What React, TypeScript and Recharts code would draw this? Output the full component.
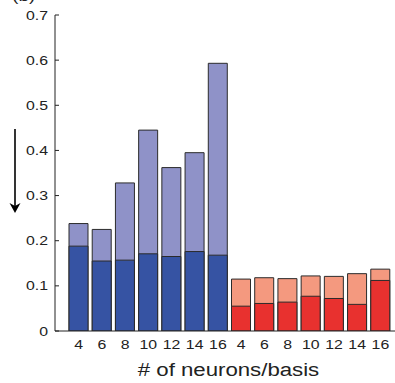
// Overlaid bar chart: total vs base per basis size, two groups (blue / red)
import React from 'react'
import { BarChart, Bar, XAxis, YAxis, Cell } from 'recharts'

const categories = ['4', '6', '8', '10', '12', '14', '16', '4', '6', '8', '10', '12', '14', '16']
const totals = [0.238, 0.225, 0.328, 0.445, 0.362, 0.395, 0.593, 0.115, 0.118, 0.116, 0.122, 0.121, 0.127, 0.137]
const bases = [0.188, 0.155, 0.157, 0.171, 0.165, 0.176, 0.168, 0.055, 0.061, 0.064, 0.077, 0.072, 0.059, 0.112]
const groups = ['blue', 'blue', 'blue', 'blue', 'blue', 'blue', 'blue', 'red', 'red', 'red', 'red', 'red', 'red', 'red']
const yTicks = [0, 0.1, 0.2, 0.3, 0.4, 0.5, 0.6, 0.7]

const LIGHT: Record<string, string> = { blue: '#8f92c8', red: '#f4997f' }
const DARK: Record<string, string> = { blue: '#3653a3', red: '#e8312f' }
const FONT = '"Liberation Sans", Arial, sans-serif'
// the source figure is stretched sideways a bit, so text is widened to match
const STRETCH = 1.22

// left ticks point inward, label sits outside
function YTick(props: any) {
  const { x, y, payload } = props
  const ax = x + 7
  return (
    <g>
      <line x1={ax} y1={y} x2={ax + 4} y2={y} stroke="#222" strokeWidth={1} />
      <text
        transform={`translate(${x},${y + 4.6}) scale(${STRETCH},1)`}
        textAnchor="end"
        fontSize={13}
        fill="#222"
        fontFamily={FONT}
      >
        {payload.value === 0 ? '0' : payload.value.toFixed(1)}
      </text>
    </g>
  )
}

function XTick(props: any) {
  const { x, y, payload } = props
  return (
    <text
      transform={`translate(${x},${y + 18}) scale(${STRETCH},1)`}
      textAnchor="middle"
      fontSize={13}
      fill="#222"
      fontFamily={FONT}
    >
      {categories[payload.value]}
    </text>
  )
}

function TopTick(props: any) {
  const { x, y } = props
  return <line x1={x} y1={y} x2={x} y2={y + 4} stroke="#555" strokeWidth={1} />
}

function AxisTitle(props: any) {
  const { viewBox } = props
  const cx = viewBox.x + viewBox.width / 2 - 1
  return (
    <text
      transform={`translate(${cx},${viewBox.y + 45}) scale(1.17,1)`}
      textAnchor="middle"
      fontSize={19}
      fill="#222"
      fontFamily={FONT}
    >
      # of neurons/basis
    </text>
  )
}

const data = categories.map((c, i) => ({ id: i, label: c, total: totals[i], base: bases[i] }))

export default function App() {
  return (
    <div style={{ position: 'absolute', left: 0, top: 0, width: 395, height: 383, overflow: 'hidden', background: '#fff' }}>
      <BarChart
        width={420}
        height={383}
        data={data}
        margin={{ top: 15, right: 16, bottom: 0, left: 0 }}
        barSize={19}
        barGap={-19}
      >
        <XAxis
          dataKey="id"
          type="category"
          height={52}
          tickLine={false}
          tickSize={0}
          tickMargin={0}
          tick={<XTick />}
          axisLine={{ stroke: '#222' }}
          padding={{ left: 12, right: 12 }}
          label={<AxisTitle />}
        />
        <XAxis
          xAxisId="top"
          orientation="top"
          dataKey="id"
          type="category"
          height={0}
          tickLine={false}
          tickSize={0}
          tickMargin={0}
          tick={<TopTick />}
          axisLine={{ stroke: '#222' }}
          padding={{ left: 12, right: 12 }}
        />
        <YAxis
          width={55}
          domain={[0, 0.7]}
          ticks={yTicks}
          tickLine={false}
          tickSize={0}
          tickMargin={7}
          tick={<YTick />}
          axisLine={{ stroke: '#222' }}
          allowDataOverflow
        />
        <Bar dataKey="total" isAnimationActive={false} stroke="#2b2b2b" strokeWidth={1}>
          {data.map((_, i) => (
            <Cell key={`t-${i}`} fill={LIGHT[groups[i]]} />
          ))}
        </Bar>
        <Bar dataKey="base" isAnimationActive={false} stroke="#2b2b2b" strokeWidth={1}>
          {data.map((_, i) => (
            <Cell key={`b-${i}`} fill={DARK[groups[i]]} />
          ))}
        </Bar>
      </BarChart>
      <svg width={395} height={383} style={{ position: 'absolute', left: 0, top: 0, pointerEvents: 'none' }}>
        <text transform="translate(12,1) scale(1.2,1)" fontSize={16} fill="#222" fontFamily={FONT}>(b)</text>
        <line x1={15} y1={129} x2={15} y2={206} stroke="#000" strokeWidth={1.6} />
        <path d="M9.5,203 L15,213 L20.5,203 L15,206 Z" fill="#000" />
      </svg>
    </div>
  )
}
